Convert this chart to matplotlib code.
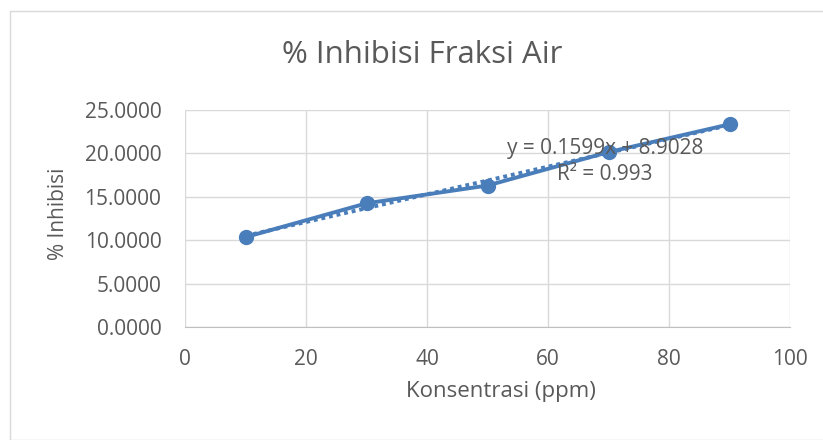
import numpy as np
import matplotlib.pyplot as plt
from matplotlib.patches import Rectangle

# data
konsentrasi = [10, 30, 50, 70, 90]
inhibisi = [10.35, 14.25, 16.30, 20.15, 23.35]
x_ticks = [0, 20, 40, 60, 80, 100]
y_ticks = [0, 5, 10, 15, 20, 25]
title = '% Inhibisi Fraksi Air'
eq_text = 'y = 0.1599x + 8.9028\nR² = 0.993'

blue = '#4A7EBB'
grey_text = '#595959'

plt.rcParams['font.family'] = ['Open Sans', 'DejaVu Sans']

fig = plt.figure(figsize=(8.23, 4.40), dpi=100)
# chart border like excel
fig.patches.append(Rectangle((10 / 823, 0), 1, 1 - 11 / 440, transform=fig.transFigure,
                             fill=False, edgecolor='#d9d9d9', linewidth=1))

ax = fig.add_axes([185 / 823, 1 - 327 / 440, 605 / 823, 217 / 440])

ax.plot(konsentrasi, inhibisi, color=blue, linewidth=2.8, marker='o', markersize=10, zorder=3)

# linear trendline
slope, intercept = np.polyfit(konsentrasi, inhibisi, 1)
xs = np.array([konsentrasi[0], konsentrasi[-1]])
ax.plot(xs, slope * xs + intercept, color=blue, linewidth=2.8, linestyle=(0, (1, 1)), zorder=2)

ax.text(69.4, 19.1, eq_text, ha='center', va='center', fontsize=15, color=grey_text,
        linespacing=1.3, multialignment='center', zorder=4)

ax.set_xlim(0, 100)
ax.set_ylim(0, 25)
ax.set_xticks(x_ticks)
ax.set_yticks(y_ticks)
ax.set_yticklabels([f'{v:.4f}' for v in y_ticks])
ax.tick_params(length=0, labelsize=15, labelcolor=grey_text)
ax.tick_params(axis='y', pad=17)
ax.tick_params(axis='x', pad=16)

ax.grid(True, color='#d9d9d9', linewidth=1)
ax.set_axisbelow(True)
for side in ['left', 'right', 'top']:
    ax.spines[side].set_visible(False)
ax.spines['bottom'].set_color('#bfbfbf')

ax.set_xlabel('Konsentrasi (ppm)', fontsize=16, color=grey_text)
ax.xaxis.set_label_coords(501 / 823, 1 - 391 / 440, transform=fig.transFigure)
ax.set_ylabel('% Inhibisi', fontsize=15, color=grey_text)
ax.yaxis.set_label_coords(59 / 823, 1 - 214 / 440, transform=fig.transFigure)
ax.yaxis.label.set_va('center')
ax.xaxis.label.set_va('center')
fig.text(422 / 823, 1 - 55 / 440, title, ha='center', va='center', fontsize=22.5, color=grey_text)

fig.savefig('out.png', dpi=100)
